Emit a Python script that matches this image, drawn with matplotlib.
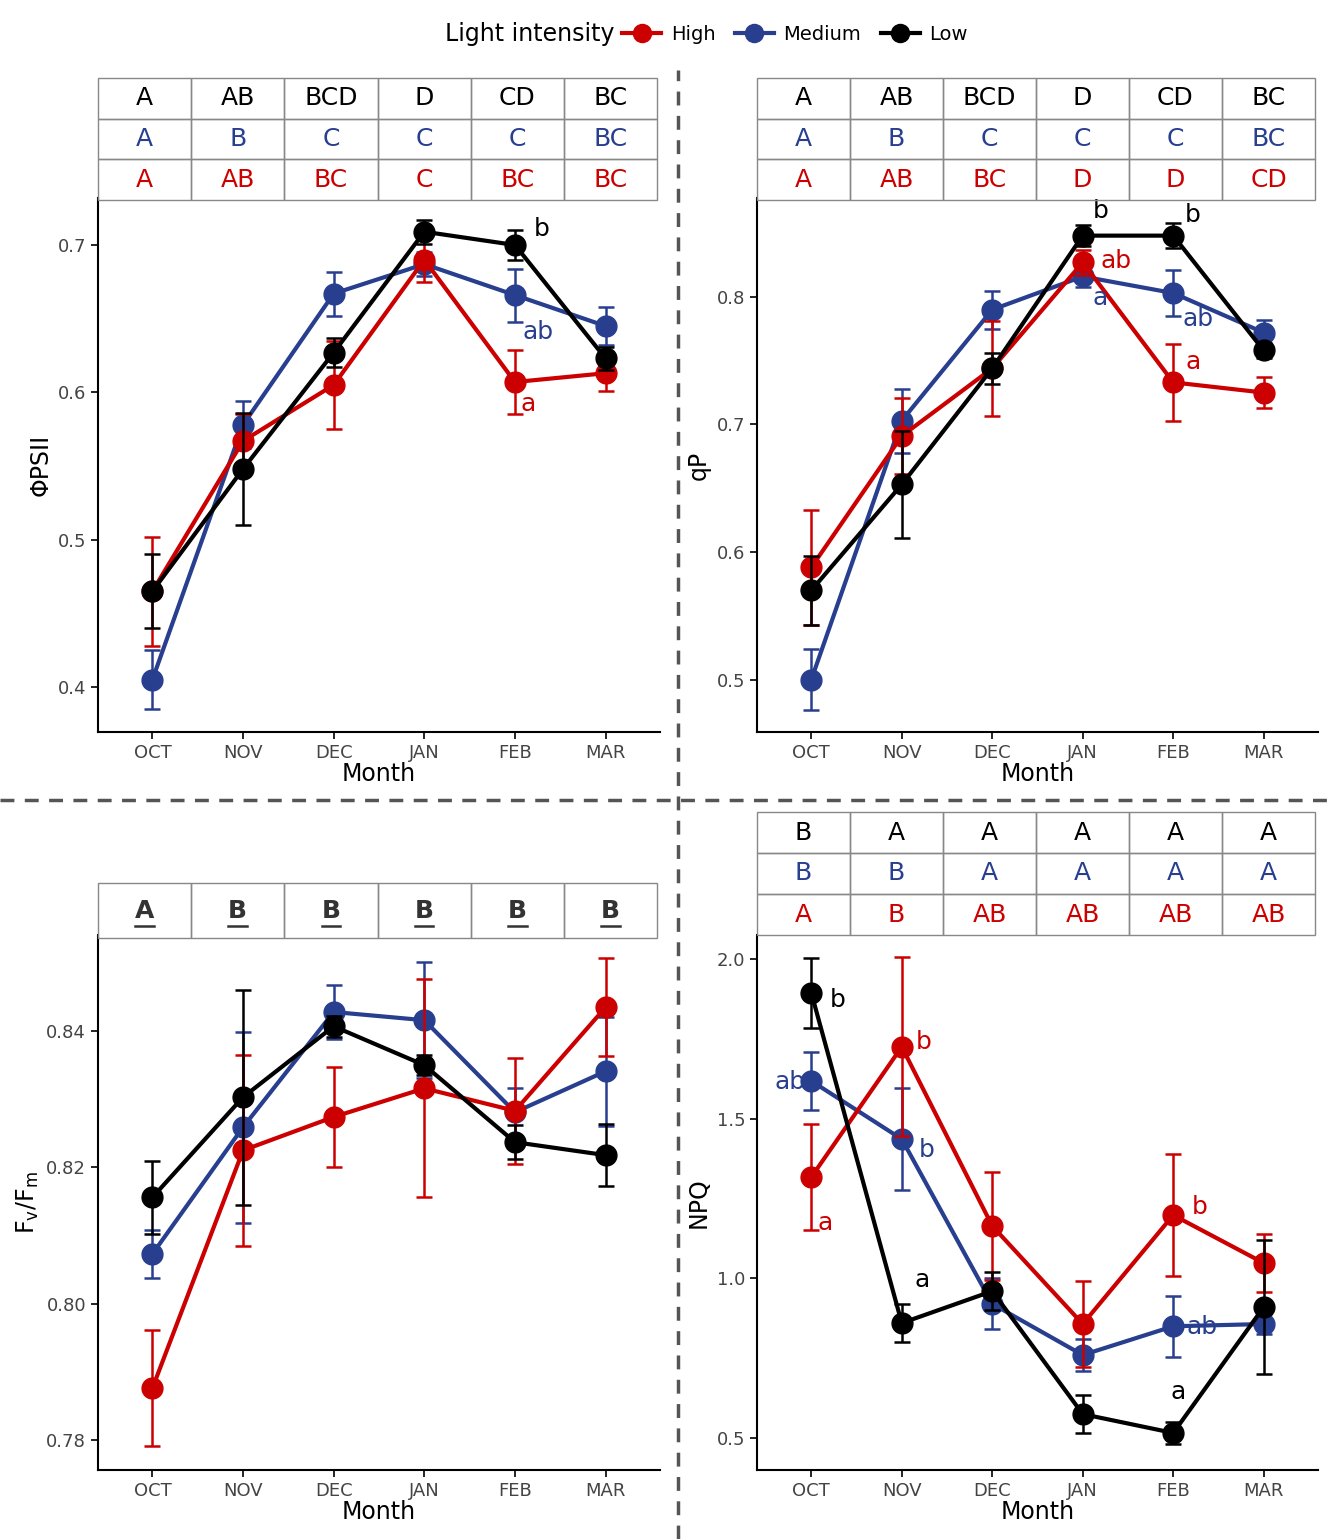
import matplotlib
matplotlib.use("Agg")
import matplotlib.pyplot as plt
from matplotlib.lines import Line2D
from matplotlib.patches import Rectangle

months = ["OCT", "NOV", "DEC", "JAN", "FEB", "MAR"]
RED, BLUE, BLACK = "#CC0000", "#283E8E", "#000000"

phi_high = [0.465, 0.567, 0.605, 0.690, 0.607, 0.613]
phi_high_err = [0.037, 0.018, 0.030, 0.015, 0.022, 0.012]
phi_med = [0.405, 0.578, 0.667, 0.687, 0.666, 0.645]
phi_med_err = [0.020, 0.016, 0.015, 0.008, 0.018, 0.013]
phi_low = [0.465, 0.548, 0.627, 0.709, 0.700, 0.623]
phi_low_err = [0.025, 0.038, 0.010, 0.008, 0.010, 0.008]

qp_high = [0.588, 0.691, 0.744, 0.827, 0.733, 0.725]
qp_high_err = [0.045, 0.030, 0.037, 0.010, 0.030, 0.012]
qp_med = [0.500, 0.703, 0.790, 0.816, 0.803, 0.772]
qp_med_err = [0.024, 0.025, 0.015, 0.008, 0.018, 0.010]
qp_low = [0.570, 0.653, 0.744, 0.848, 0.848, 0.758]
qp_low_err = [0.027, 0.042, 0.012, 0.008, 0.010, 0.006]

fv_high = [0.7876, 0.8225, 0.8274, 0.8316, 0.8283, 0.8435]
fv_high_err = [0.0085, 0.0140, 0.0073, 0.0160, 0.0078, 0.0072]
fv_med = [0.8073, 0.8259, 0.8428, 0.8416, 0.8281, 0.8341]
fv_med_err = [0.0035, 0.0140, 0.0040, 0.0085, 0.0035, 0.0080]
fv_low = [0.8156, 0.8303, 0.8407, 0.8350, 0.8237, 0.8218]
fv_low_err = [0.0053, 0.0158, 0.0015, 0.0015, 0.0025, 0.0046]

npq_high = [1.317, 1.725, 1.164, 0.857, 1.198, 1.048]
npq_high_err = [0.165, 0.280, 0.170, 0.135, 0.190, 0.090]
npq_med = [1.618, 1.436, 0.920, 0.760, 0.850, 0.857]
npq_med_err = [0.090, 0.160, 0.080, 0.050, 0.095, 0.030]
npq_low = [1.894, 0.860, 0.960, 0.575, 0.516, 0.910]
npq_low_err = [0.110, 0.060, 0.060, 0.060, 0.035, 0.210]

tab_phi = [["A", "AB", "BCD", "D", "CD", "BC"],
           ["A", "B", "C", "C", "C", "BC"],
           ["A", "AB", "BC", "C", "BC", "BC"]]
tab_qp = [["A", "AB", "BCD", "D", "CD", "BC"],
          ["A", "B", "C", "C", "C", "BC"],
          ["A", "AB", "BC", "D", "D", "CD"]]
tab_fv = [["A", "B", "B", "B", "B", "B"]]
tab_npq = [["B", "A", "A", "A", "A", "A"],
           ["B", "B", "A", "A", "A", "A"],
           ["A", "B", "AB", "AB", "AB", "AB"]]

W, H = 1329, 1539
fig = plt.figure(figsize=(W / 100, H / 100), dpi=100)

def rect(x0, y0, x1, y1):
    return [x0 / W, 1 - y1 / H, (x1 - x0) / W, (y1 - y0) / H]

def panel(pos, tpos, high, he, med, me, low, le, ylim, yticks, ylabel, table, underline=False):
    ax = fig.add_axes(rect(*pos))
    x = list(range(6))
    for vals, err, c, z in [(high, he, RED, 3), (med, me, BLUE, 2), (low, le, BLACK, 4)]:
        ax.errorbar(x, vals, yerr=err, color=c, lw=3, marker="o", ms=15, capsize=6,
                    elinewidth=1.8, capthick=1.8, zorder=z)
    ax.set_xlim(-0.6, 5.6)
    ax.set_ylim(*ylim)
    ax.set_yticks(yticks)
    ax.set_xticks(x)
    ax.set_xticklabels(months)
    ax.tick_params(labelsize=13, labelcolor="#444444", length=5, width=1.2)
    for s in ["top", "right"]:
        ax.spines[s].set_visible(False)
    for s in ["left", "bottom"]:
        ax.spines[s].set_linewidth(1.5)
    ax.set_xlabel("Month", fontsize=17, labelpad=0)
    ax.set_ylabel(ylabel, fontsize=17)
    tax = fig.add_axes(rect(*tpos))
    n = len(table)
    tax.set_xlim(0, 6)
    tax.set_ylim(0, n)
    tax.axis("off")
    cols = [BLACK, BLUE, RED] if n == 3 else ["#333333"]
    for r, row in enumerate(table):
        for c, t in enumerate(row):
            tax.add_patch(Rectangle((c, n - r - 1), 1, 1, fill=False, ec="#888888", lw=1, clip_on=False))
            if underline:
                tax.text(c + 0.5, n - r - 0.5, t, ha="center", va="center", fontsize=18,
                         color=cols[r], fontweight="bold")
                tax.plot([c + 0.4, c + 0.6], [n - r - 0.78] * 2, color=cols[r], lw=1.8)
            else:
                tax.text(c + 0.5, n - r - 0.5, t, ha="center", va="center", fontsize=18, color=cols[r])
    return ax

ax1 = panel((98, 198, 660, 732), (98, 78, 657, 200), phi_high, phi_high_err, phi_med, phi_med_err,
            phi_low, phi_low_err, (0.3695, 0.7319), [0.4, 0.5, 0.6, 0.7], "ΦPSII", tab_phi)
ax2 = panel((757, 198, 1318, 732), (757, 78, 1315, 200), qp_high, qp_high_err, qp_med, qp_med_err,
            qp_low, qp_low_err, (0.459, 0.8775), [0.5, 0.6, 0.7, 0.8], "qP", tab_qp)
ax3 = panel((98, 935, 660, 1470), (98, 883, 657, 938), fv_high, fv_high_err, fv_med, fv_med_err,
            fv_low, fv_low_err, (0.7756, 0.8541), [0.78, 0.80, 0.82, 0.84], r"F$_\mathrm{v}$/F$_\mathrm{m}$",
            tab_fv, underline=True)
ax4 = panel((757, 935, 1318, 1470), (757, 812, 1315, 935), npq_high, npq_high_err, npq_med, npq_med_err,
            npq_low, npq_low_err, (0.4, 2.075), [0.5, 1.0, 1.5, 2.0], "NPQ", tab_npq)

def lab(ax, x, y, t, c):
    ax.text(x, y, t, color=c, fontsize=18, ha="center", va="center", zorder=6)

lab(ax1, 4.29, 0.711, "b", BLACK)
lab(ax1, 4.25, 0.641, "ab", BLUE)
lab(ax1, 4.14, 0.592, "a", RED)
lab(ax2, 3.2, 0.867, "b", BLACK)
lab(ax2, 4.22, 0.864, "b", BLACK)
lab(ax2, 3.37, 0.828, "ab", RED)
lab(ax2, 3.19, 0.799, "a", BLUE)
lab(ax2, 4.27, 0.783, "ab", BLUE)
lab(ax2, 4.22, 0.749, "a", RED)
lab(ax4, 0.29, 1.871, "b", BLACK)
lab(ax4, -0.23, 1.614, "ab", BLUE)
lab(ax4, 0.15, 1.174, "a", RED)
lab(ax4, 1.24, 1.740, "b", RED)
lab(ax4, 1.27, 1.402, "b", BLUE)
lab(ax4, 1.23, 0.996, "a", BLACK)
lab(ax4, 4.29, 1.223, "b", RED)
lab(ax4, 4.32, 0.848, "ab", BLUE)
lab(ax4, 4.05, 0.645, "a", BLACK)

# dashed separators
fig.add_artist(Line2D([678 / W, 678 / W], [0, 1 - 70 / H], color="#555555", lw=2.5, ls=(0, (4, 3))))
fig.add_artist(Line2D([0, 1], [1 - 800 / H] * 2, color="#555555", lw=2.5, ls=(0, (4, 3))))

# legend
fig.text(530 / W, 1 - 34 / H, "Light intensity", fontsize=17, ha="center", va="center")
handles = [Line2D([], [], color=c, lw=3, marker="o", ms=13) for c in (RED, BLUE, BLACK)]
fig.legend(handles, ["High", "Medium", "Low"], loc="center", bbox_to_anchor=(795 / W, 1 - 34 / H),
           ncol=3, frameon=False, fontsize=14, handlelength=2, columnspacing=1.0, handletextpad=0.5)

fig.savefig("out.png", dpi=100, facecolor="white")
